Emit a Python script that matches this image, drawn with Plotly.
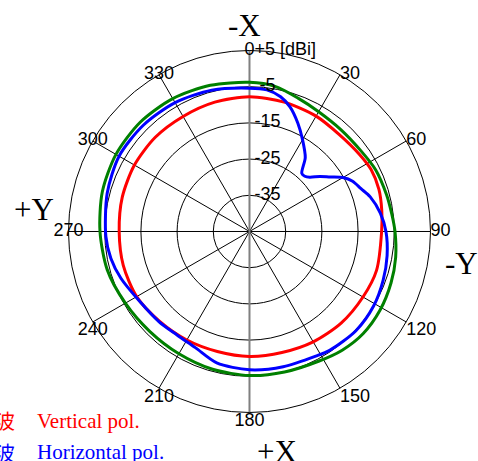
import plotly.graph_objects as go

# ---- data ----
red_theta = [0, 15, 30, 43, 55, 63, 72, 81, 90, 107, 120, 135, 150, 165, 180, 195,
             210, 225, 240, 255, 270, 285, 300, 315, 330, 345]
red_db = [-7.8, -8.0, -8.2, -8.5, -7.9, -7.3, -7.4, -8.0, -8.5, -8.3, -8.8, -9.2, -9.8,
          -10.4, -10.5, -10.7, -10.4, -9.9, -9.0, -8.9, -9.0, -8.6, -8.3, -8.2, -8.3, -8.0]

green_theta = [0, 10, 20, 30, 42, 54, 64, 75, 83, 90, 100, 110, 121, 132, 142, 152, 166,
               180, 195, 210, 225, 240, 255, 270, 285, 300, 315, 330, 345]
green_db = [-3.8, -4.3, -5.8, -6.8, -7.2, -7.0, -6.2, -5.8, -5.4, -4.8, -4.0, -3.4, -2.9,
            -2.8, -3.4, -4.4, -5.0, -5.2, -5.6, -6.0, -6.0, -5.4, -4.3, -3.7, -2.9, -2.4,
            -2.3, -2.6, -3.2]

blue_theta = [0, 7, 13, 18, 24, 30, 37, 42, 45, 48, 52, 56, 60, 64, 69, 74, 82, 90, 100,
              110, 121, 133, 146, 152, 166, 180, 194, 205, 215, 225, 238, 250, 259, 268,
              285, 300, 315, 330, 345]
blue_db = [-5.4, -5.6, -6.8, -8.8, -12.2, -15.7, -19.4, -23.4, -23.4, -22.6, -20.3, -18.1,
           -15.2, -13.3, -12.0, -10.3, -8.5, -7.3, -6.4, -5.7, -5.0, -4.8, -5.4, -6.0, -6.5,
           -6.8, -7.6, -9.6, -10.1, -9.7, -9.0, -7.2, -6.0, -5.3, -4.3, -3.4, -3.5, -3.9, -4.6]

angle_ticks = [0, 30, 60, 90, 120, 150, 180, 210, 240, 270, 300, 330]
angle_labels = ["0", "30", "60", "90", "120", "150", "180", "210", "240", "270", "300", "330"]
angle_label_pos = ["middle center", "middle right", "middle right", "middle right",
                   "bottom right", "bottom right", "bottom center", "bottom center",
                   "bottom center", "middle center", "middle center", "middle center"]
radial_ticks = [-35, -25, -15, -5, 5]
radial_labels = ["\u00a0-35", "\u00a0-25", "\u00a0-15", "\u00a0\u00a0-5", "\u00a0+5 [dBi]"]
r_range = [-45, 5]

axis_line_r = [5, -45, 5]
axis_line_theta = [0, 0, 180]

tick_font = dict(family="Liberation Sans", size=18, color="black")

fig = go.Figure()

fig.add_trace(go.Scatterpolar(r=axis_line_r, theta=axis_line_theta, mode="lines",
                              line=dict(color="#808080", width=2), hoverinfo="skip"))


def closed(t, v):
    return v + [v[0]], t + [360]


for th, db, col in [(red_theta, red_db, "#ff0000"),
                    (green_theta, green_db, "#008000"),
                    (blue_theta, blue_db, "#0000ff")]:
    rr, tt = closed(th, db)
    fig.add_trace(go.Scatterpolar(r=rr, theta=tt, mode="lines",
                                  line=dict(color=col, width=3, shape="spline", smoothing=0.8),
                                  hoverinfo="skip"))

# radial tick labels along the 0-degree axis
fig.add_trace(go.Scatterpolar(r=radial_ticks, theta=[0] * len(radial_ticks), mode="text",
                              text=radial_labels, textposition="middle right",
                              textfont=tick_font, hoverinfo="skip"))

# angular tick labels sitting on the outer ring
fig.add_trace(go.Scatterpolar(r=[r_range[1]] * len(angle_ticks), theta=angle_ticks,
                              mode="text", text=angle_labels, textposition=angle_label_pos,
                              textfont=tick_font, hoverinfo="skip", cliponaxis=False))

fig.update_layout(
    width=478, height=461,
    margin=dict(l=0, r=0, t=0, b=0),
    paper_bgcolor="white",
    showlegend=False,
    polar=dict(
        domain=dict(x=[0.1433, 0.9006], y=[0.1052, 0.8905]),
        bgcolor="white",
        radialaxis=dict(range=r_range, tickvals=radial_ticks, showticklabels=False,
                        ticks="", showline=False, gridcolor="black", gridwidth=1),
        angularaxis=dict(rotation=90, direction="clockwise", tickmode="array",
                         tickvals=angle_ticks, showticklabels=False, ticks="",
                         showline=True, linecolor="black", linewidth=1,
                         gridcolor="black", gridwidth=1),
    ),
)

serif = dict(family="Liberation Serif", size=31, color="black")
for txt, x, y in [("-X", 0.5105, 0.945), ("+Y", 0.0711, 0.5466),
                  ("-Y", 0.9665, 0.4295), ("+X", 0.5795, 0.0215)]:
    fig.add_annotation(text=txt, x=x, y=y, xref="paper", yref="paper",
                       showarrow=False, font=serif, xanchor="center", yanchor="middle")

for jp, en, col, y in [("垂直偏波", "Vertical pol.", "#ff0000", 0.0868),
                       ("水平偏波", "Horizontal pol.", "#0000ff", 0.0195)]:
    fig.add_annotation(text=jp, x=0.0356, y=y, xref="paper", yref="paper", showarrow=False,
                       xanchor="right", yanchor="middle",
                       font=dict(family="Noto Sans CJK JP", size=20, color=col))
    fig.add_annotation(text=en, x=0.0732, y=y, xref="paper", yref="paper", showarrow=False,
                       xanchor="left", yanchor="middle",
                       font=dict(family="Liberation Serif", size=21, color=col))

fig.write_html("out.html", config={"displayModeBar": False},
               post_script="document.body.style.margin='0';")
